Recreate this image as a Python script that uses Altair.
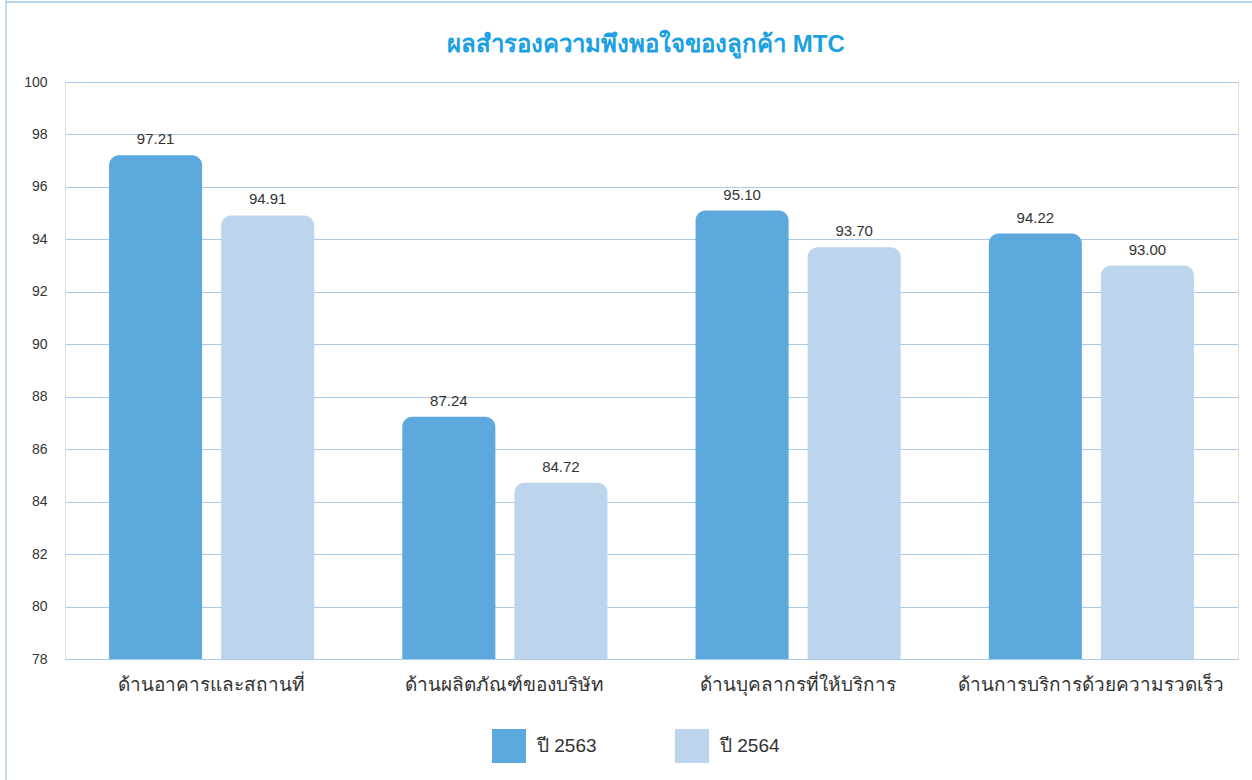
import altair as alt
import pandas as pd

categories = ["ด้านอาคารและสถานที่", "ด้านผลิตภัณฑ์ของบริษัท", "ด้านบุคลากรที่ให้บริการ", "ด้านการบริการด้วยความรวดเร็ว"]
series = ["ปี 2563", "ปี 2564"]
values_2563 = [97.21, 87.24, 95.10, 94.22]
values_2564 = [94.91, 84.72, 93.70, 93.00]
colors = ["#5DA9DD", "#BDD5EC"]
title_text = "ผลสำรองความพึงพอใจของลูกค้า MTC"

rows = []
for c, a, b in zip(categories, values_2563, values_2564):
    rows.append({"cat": c, "series": series[0], "value": a})
    rows.append({"cat": c, "series": series[1], "value": b})
df = pd.DataFrame(rows)

FONT = "Liberation Sans, Arial, sans-serif"

x = alt.X("cat:N", sort=categories, title=None,
          scale=alt.Scale(paddingInner=0, paddingOuter=0),
          axis=alt.Axis(labelAngle=0, labelFontSize=19, labelColor="#333333",
                        labelPadding=16, ticks=False, domain=False, labelFont=FONT,
                        labelLimit=400))
xoff = alt.XOffset("series:N", sort=series,
                   scale=alt.Scale(paddingInner=0.17, paddingOuter=0.393))

base = alt.Chart(df)

bars = base.mark_bar(cornerRadiusTopLeft=10, cornerRadiusTopRight=10).encode(
    x=x,
    xOffset=xoff,
    y=alt.Y("value:Q", title=None,
            scale=alt.Scale(domain=[78, 100], zero=False, nice=False),
            axis=alt.Axis(values=list(range(78, 101, 2)), labelFontSize=14,
                          labelColor="#333333", labelPadding=18, ticks=False,
                          domain=False, gridColor="#A9CBEA", gridWidth=1,
                          labelFont=FONT)),
    y2=alt.datum(78),
    color=alt.Color("series:N", sort=series,
                    scale=alt.Scale(domain=series, range=colors),
                    legend=alt.Legend(title=None, orient="none", direction="horizontal",
                                      legendX=427, legendY=647,
                                      symbolType="square", symbolSize=1156,
                                      symbolStrokeWidth=0, symbolOpacity=1,
                                      labelFontSize=19, labelColor="#333333",
                                      labelFont=FONT, columnPadding=78,
                                      labelOffset=11, padding=0)),
)

labels = base.mark_text(dy=-8, fontSize=15, color="#333333", font=FONT,
                        baseline="bottom").encode(
    x=x,
    xOffset=xoff,
    y=alt.Y("value:Q"),
    text=alt.Text("value:Q", format=".2f"),
)

one = pd.DataFrame({"t": [title_text]})
title_mark = alt.Chart(one).mark_text(
    fontSize=24, fontWeight="bold", color="#1BA0E2", font=FONT,
    align="center", baseline="middle").encode(
    x=alt.value(581), y=alt.value(-37), text="t:N")

border_left = alt.Chart(one).mark_rule(
    color="#C7DDF1", strokeWidth=2).encode(
    x=alt.value(-59), y=alt.value(-82), y2=alt.value(700))
border_top = alt.Chart(one).mark_rule(
    color="#9CC6EA", strokeWidth=1.5).encode(
    x=alt.value(-59), x2=alt.value(1190), y=alt.value(-80))

chart = alt.layer(border_left, border_top, title_mark, bars, labels).properties(
    width=1173, height=577,
    autosize=alt.AutoSizeParams(type="none"),
    padding={"left": 65, "top": 82, "right": 14, "bottom": 121},
).configure_view(stroke=None).configure(background="white")

chart.save("out.html", embed_options={"renderer": "svg", "actions": False})
